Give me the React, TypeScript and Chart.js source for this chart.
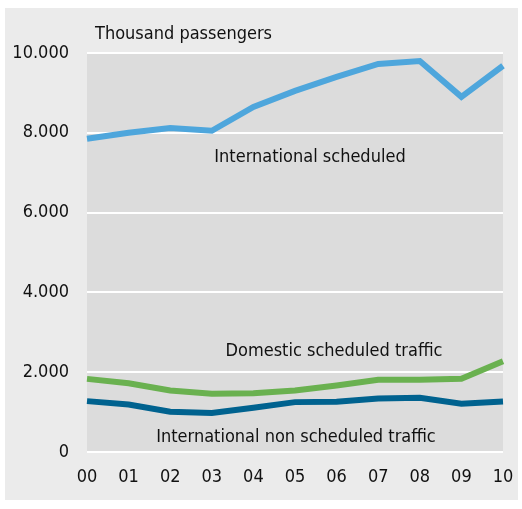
import React, { useEffect, useRef } from "react";
import { Chart, registerables } from "chart.js";

Chart.register(...registerables);

const years = ["00", "01", "02", "03", "04", "05", "06", "07", "08", "09", "10"];
const internationalScheduled = [7850, 8000, 8120, 8050, 8650, 9050, 9400, 9725, 9800, 8900, 9680];
const domesticScheduled = [1833, 1725, 1540, 1460, 1475, 1540, 1665, 1810, 1810, 1833, 2275];
const internationalNonScheduled = [1275, 1190, 1010, 975, 1110, 1250, 1260, 1340, 1360, 1210, 1265];
const yTicks = [0, 2000, 4000, 6000, 8000, 10000];

const FONT = "'DejaVu Sans Condensed', 'Open Sans', sans-serif";

const bgPlugin = {
  id: "bgPlugin",
  beforeDraw(chart: any) {
    const { ctx, chartArea } = chart;
    ctx.save();
    ctx.fillStyle = "#ebebeb";
    ctx.fillRect(5, 8, 513, 492);
    ctx.fillStyle = "#dcdcdc";
    ctx.fillRect(chartArea.left, chartArea.top, chartArea.right - chartArea.left, chartArea.bottom - chartArea.top);
    ctx.restore();
  },
  afterDraw(chart: any) {
    const { ctx } = chart;
    ctx.save();
    ctx.fillStyle = "#111";
    ctx.font = `18px ${FONT}`;
    ctx.textBaseline = "middle";
    ctx.textAlign = "left";
    ctx.fillText("Thousand passengers", 95, 34);
    ctx.textAlign = "center";
    ctx.fillText("International scheduled", 310, 157);
    ctx.fillText("Domestic scheduled traffic", 334, 351);
    ctx.fillText("International non scheduled traffic", 296, 437);
    ctx.restore();
  },
};

export default function App() {
  const ref = useRef<HTMLCanvasElement | null>(null);
  useEffect(() => {
    document.body.style.margin = "0";
    const chart = new Chart(ref.current!, {
      type: "line",
      data: {
        labels: years,
        datasets: [
          { label: "International scheduled", data: internationalScheduled, borderColor: "#4ea6dc", borderWidth: 6, pointRadius: 0, tension: 0 },
          { label: "Domestic scheduled traffic", data: domesticScheduled, borderColor: "#6ab150", borderWidth: 6, pointRadius: 0, tension: 0 },
          { label: "International non scheduled traffic", data: internationalNonScheduled, borderColor: "#00628f", borderWidth: 6, pointRadius: 0, tension: 0 },
        ],
      },
      options: {
        responsive: false,
        animation: false,
        layout: { padding: { top: 53, right: 19, left: 0, bottom: 0 } },
        plugins: { legend: { display: false }, tooltip: { enabled: false } },
        scales: {
          x: {
            offset: false,
            grid: { display: false, drawTicks: false },
            border: { display: false },
            ticks: { color: "#111", font: { size: 18, family: FONT }, padding: 15, maxRotation: 0, autoSkip: false },
            afterFit(scale: any) {
              scale.height = 57;
              scale.paddingLeft = 0;
              scale.paddingRight = 0;
            },
          },
          y: {
            min: 0,
            max: 10000,
            afterBuildTicks(scale: any) { scale.ticks = yTicks.map((v) => ({ value: v })); },
            grid: { color: "#ffffff", lineWidth: 2, drawTicks: false },
            border: { display: false },
            ticks: {
              color: "#111",
              font: { size: 18, family: FONT },
              padding: 18,
              callback: (v: any) => Number(v).toLocaleString("de-DE"),
            },
            afterFit(scale: any) {
              scale.width = 87;
              scale.paddingTop = 0;
              scale.paddingBottom = 0;
            },
          },
        },
      },
      plugins: [bgPlugin],
    });
    return () => chart.destroy();
  }, []);
  return (
    <div style={{ width: 522, height: 509 }}>
      <canvas ref={ref} width={522} height={509} />
    </div>
  );
}
